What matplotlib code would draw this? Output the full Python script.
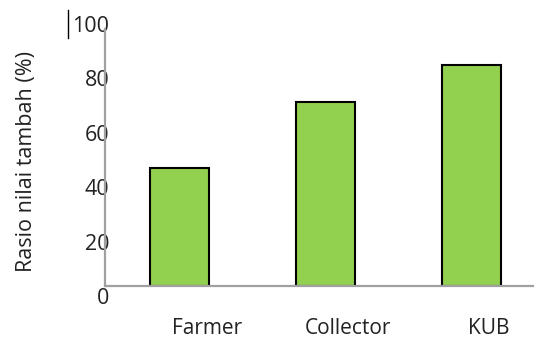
import matplotlib
matplotlib.use('Agg')
import matplotlib.pyplot as plt
import matplotlib.transforms as mtransforms
from matplotlib.lines import Line2D

# data
categories = ['Farmer', 'Collector', 'KUB']
ratio = [46, 71.5, 86]
ytick_values = [0, 20, 40, 60, 80, 100]

plt.rcParams['font.family'] = ['Open Sans', 'DejaVu Sans']

W, H = 535, 340
fig = plt.figure(figsize=(W / 100, H / 100), dpi=100)

# tick labels sit in their own (slightly shifted) box, as in the original
lab = fig.add_axes([105 / W, (H - 296) / H, 0.001, 272 / H])
lab.set_ylim(0, 100)
lab.set_yticks(ytick_values)
lab.set_yticklabels([str(v) for v in ytick_values], fontsize=15.5, color='#222222')
lab.tick_params(axis='y', length=0, pad=-3)
lab.set_xticks([])
for s in lab.spines.values():
    s.set_visible(False)
lab.patch.set_visible(False)
lab.set_zorder(1)

# main axes (pixel box: x 105..533, y 29..286 from top)
ax = fig.add_axes([105 / W, (H - 286) / H, 428 / W, 257 / H])
ax.set_zorder(2)
ax.patch.set_visible(False)
ax.bar(range(len(categories)), ratio, width=0.4, color='#92D050',
       edgecolor='black', linewidth=1.5, zorder=3)
ax.set_xlim(-0.51, 2.42)
ax.set_ylim(0, 100)
for side in ['top', 'right']:
    ax.spines[side].set_visible(False)
for side in ['left', 'bottom']:
    ax.spines[side].set_color('#a0a0a0')
    ax.spines[side].set_linewidth(1.6)
    ax.spines[side].set_zorder(4)
ax.set_yticks([])
ax.set_xticks(range(len(categories)))
ax.set_xticklabels(categories, fontsize=15, color='#222222')
ax.tick_params(axis='x', length=0, pad=23)
# category labels are shifted right of their bars in the original
for lbl, dx in zip(ax.get_xticklabels(), [28, 22, 17]):
    lbl.set_transform(lbl.get_transform() +
                      mtransforms.ScaledTranslation(dx / 100, 0, fig.dpi_scale_trans))

fig.text(27 / W, 1 - 161 / H, 'Rasio nilai tambah (%)', rotation=90,
         ha='center', va='center', fontsize=15.5, color='#222222')

# stray cursor mark near the top label
fig.add_artist(Line2D([68 / W, 68 / W], [1 - 10 / H, 1 - 38 / H],
                      color='black', linewidth=1))

fig.savefig('out.png', dpi=100)
